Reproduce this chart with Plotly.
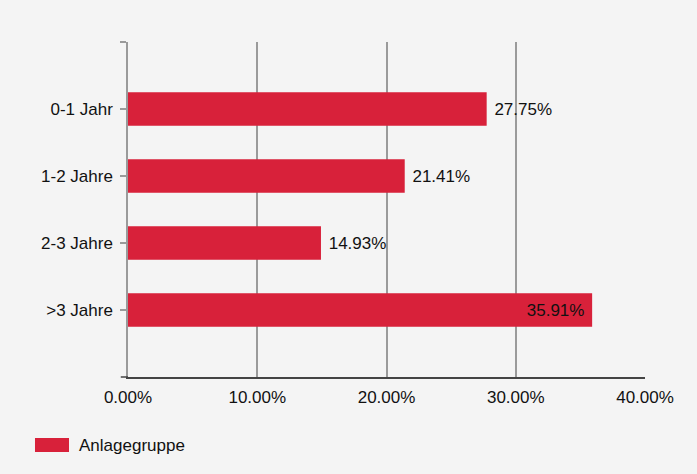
import plotly.graph_objects as go

categories = ["0-1 Jahr", "1-2 Jahre", "2-3 Jahre", ">3 Jahre"]
values = [27.75, 21.41, 14.93, 35.91]
positions = [1, 2, 3, 4]
x_ticks = [0, 10, 20, 30, 40]
x_tick_labels = ["0.00%", "10.00%", "20.00%", "30.00%", "40.00%"]
series_name = "Anlagegruppe"
text_positions = ["outside", "outside", "outside", "inside"]

RED = "#d8213a"
BG = "#f4f4f4"
FONT = "Liberation Sans, Arial, sans-serif"
FS = 17
NB = "\u00a0"

labels = []
for v, p in zip(values, text_positions):
    s = f"{v:.2f}%"
    labels.append(NB + s if p == "outside" else s + NB)

fig = go.Figure()
fig.add_trace(go.Bar(
    x=values, y=positions, orientation="h", name=series_name,
    marker=dict(color=RED, line=dict(width=0)), width=0.5,
    text=labels, textposition=text_positions,
    insidetextanchor="end", cliponaxis=False,
    textfont=dict(family=FONT, size=FS, color="#111"),
    insidetextfont=dict(family=FONT, size=FS, color="#111"),
    outsidetextfont=dict(family=FONT, size=FS, color="#111"),
    showlegend=False,
))

fig.update_layout(
    width=697, height=474,
    paper_bgcolor=BG, plot_bgcolor=BG,
    margin=dict(l=128, r=52, t=42, b=97),
    font=dict(family=FONT, size=FS, color="#111"),
    xaxis=dict(range=[0, 40], tickvals=x_ticks, ticktext=x_tick_labels,
               showgrid=True, gridcolor="#9a9a9a", gridwidth=1.5,
               zeroline=False, showline=True, linecolor="#444", linewidth=1.5,
               ticks="", ticklabelstandoff=4, fixedrange=True),
    yaxis=dict(range=[5, 0], tickvals=[0] + positions, ticktext=[""] + categories,
               showgrid=False, zeroline=False, showline=True,
               linecolor="#9a9a9a", linewidth=1.5,
               ticks="outside", ticklen=6, tickcolor="#9a9a9a", tickwidth=1.5,
               ticklabelstandoff=4, fixedrange=True),
    bargap=0.5,
)

# extend the x-axis baseline slightly left, like the reference
fig.add_shape(type="line", xref="paper", yref="paper", x0=-0.014, x1=0, y0=0, y1=0,
              line=dict(color="#444", width=1.5))

# legend drawn manually (wide swatch)
fig.add_shape(type="rect", xref="paper", yref="paper",
              x0=-0.1799, x1=-0.1141, y0=-0.1821, y1=-0.2239,
              fillcolor=RED, line=dict(width=0))
fig.add_annotation(xref="paper", yref="paper", x=-0.0986, y=-0.203,
                   text=series_name, showarrow=False, xanchor="left", yanchor="middle",
                   font=dict(family=FONT, size=FS, color="#111"))

fig.write_html("out.html")
